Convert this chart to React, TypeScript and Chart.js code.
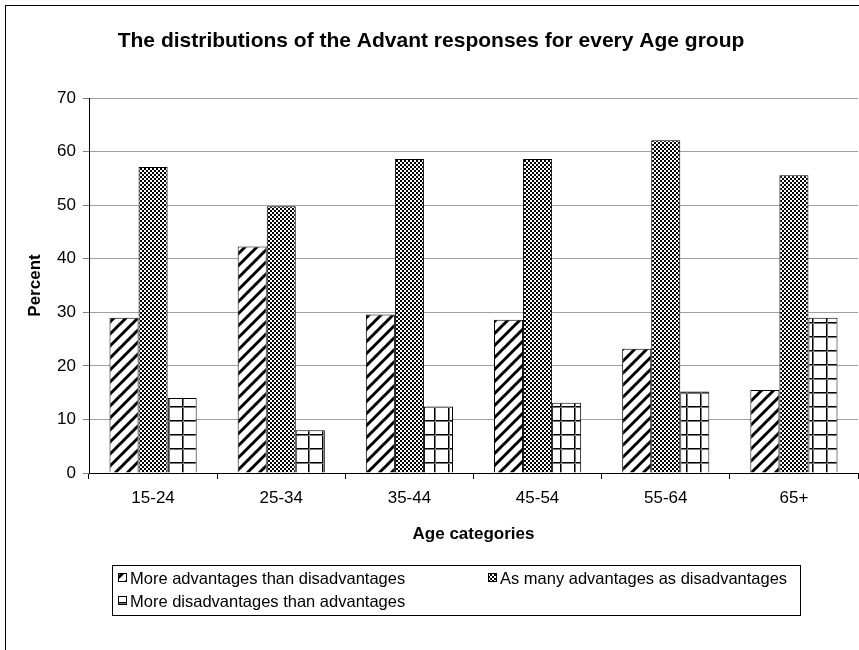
import React, { useEffect, useRef } from 'react';
import { Chart, registerables } from 'chart.js';

Chart.register(...registerables);

const categories = ['15-24', '25-34', '35-44', '45-54', '55-64', '65+'];
const seriesLabels = [
  'More advantages than disadvantages',
  'As many advantages as disadvantages',
  'More disadvantages than advantages',
];
const moreAdvantages = [29.0, 42.3, 29.6, 28.6, 23.2, 15.5];
const asManyAdvantages = [57.1, 49.8, 58.6, 58.6, 62.1, 55.6];
const moreDisadvantages = [14.0, 8.0, 12.4, 13.1, 15.2, 29.0];
const yMin = 0;
const yMax = 70;
const yStep = 10;
const chartTitle = 'The distributions of the Advant responses for every Age group';
const xAxisTitle = 'Age categories';
const yAxisTitle = 'Percent';

const FONT = "'Liberation Sans', Arial, Helvetica, sans-serif";

function makePattern(kind: string): CanvasPattern | string {
  const c = document.createElement('canvas');
  const ctx = c.getContext('2d');
  if (!ctx) return '#888';
  if (kind === 'diag') {
    c.width = 12; c.height = 12;
    ctx.fillStyle = '#fff';
    ctx.fillRect(0, 0, 12, 12);
    ctx.strokeStyle = '#000';
    ctx.lineWidth = 3;
    ctx.lineCap = 'square';
    ctx.beginPath();
    ctx.moveTo(-2, 14); ctx.lineTo(14, -2);
    ctx.moveTo(-4, 4); ctx.lineTo(4, -4);
    ctx.moveTo(8, 16); ctx.lineTo(16, 8);
    ctx.stroke();
  } else if (kind === 'check') {
    c.width = 4; c.height = 4;
    ctx.fillStyle = '#fff';
    ctx.fillRect(0, 0, 4, 4);
    ctx.fillStyle = '#000';
    ctx.fillRect(0, 0, 2, 2);
    ctx.fillRect(2, 2, 2, 2);
  } else {
    c.width = 14; c.height = 14;
    ctx.fillStyle = '#fff';
    ctx.fillRect(0, 0, 14, 14);
    ctx.fillStyle = '#000';
    ctx.fillRect(0, 0, 1, 14);
    ctx.fillRect(0, 0, 14, 1);
    ctx.fillStyle = '#777';
    ctx.fillRect(1, 0, 1, 14);
    ctx.fillRect(0, 1, 14, 1);
  }
  const p = ctx.createPattern(c, 'repeat');
  return p || '#888';
}

export default function App() {
  const ref = useRef<HTMLCanvasElement | null>(null);

  useEffect(() => {
    document.body.style.margin = '0';
    const canvas = ref.current;
    if (!canvas) return;
    const patterns = [makePattern('diag'), makePattern('check'), makePattern('grid')];
    const seriesValues = [moreAdvantages, asManyAdvantages, moreDisadvantages];

    const decor = {
      id: 'decor',
      beforeDraw(chart: any) {
        const ctx = chart.ctx;
        ctx.save();
        ctx.fillStyle = '#fff';
        ctx.fillRect(0, 0, chart.width, chart.height);
        ctx.strokeStyle = '#000';
        ctx.lineWidth = 1;
        ctx.strokeRect(5.5, 5.5, chart.width + 20, chart.height + 20);
        ctx.restore();
      },
      afterDraw(chart: any) {
        const ctx = chart.ctx;
        ctx.save();
        // title
        ctx.fillStyle = '#000';
        ctx.font = `bold 21px ${FONT}`;
        ctx.textAlign = 'center';
        ctx.textBaseline = 'middle';
        ctx.fillText(chartTitle, 431, 41);
        // legend box
        const bx = 112.5, by = 565.5, bw = 688, bh = 50;
        ctx.strokeStyle = '#000';
        ctx.lineWidth = 1;
        ctx.strokeRect(bx, by, bw, bh);
        const items = [
          { x: 118, y: 578 },
          { x: 488, y: 578 },
          { x: 118, y: 601 },
        ];
        ctx.font = `16.5px ${FONT}`;
        ctx.textAlign = 'left';
        ctx.textBaseline = 'middle';
        items.forEach((it, i) => {
          ctx.fillStyle = patterns[i] as any;
          ctx.fillRect(it.x, it.y - 5, 9, 9);
          ctx.strokeStyle = '#000';
          ctx.strokeRect(it.x + 0.5, it.y - 4.5, 8, 8);
          ctx.fillStyle = '#000';
          ctx.fillText(seriesLabels[i], it.x + 12, it.y + 1);
        });
        ctx.restore();
      },
    };

    const chart = new Chart(canvas, {
      type: 'bar',
      data: {
        labels: categories,
        datasets: seriesValues.map((vals, i) => ({
          label: seriesLabels[i],
          data: vals,
          backgroundColor: patterns[i] as any,
          borderColor: '#000',
          borderWidth: 1,
          categoryPercentage: 0.68,
          barPercentage: 1,
        })),
      },
      options: {
        responsive: false,
        animation: false,
        layout: { padding: { top: 98, right: 1, left: 0, bottom: 105 } },
        plugins: {
          legend: { display: false },
          title: { display: false },
          tooltip: { enabled: false },
        },
        scales: {
          x: {
            grid: {
              display: true,
              drawOnChartArea: false,
              drawTicks: true,
              tickLength: 6,
              tickColor: '#000',
              offset: true,
            },
            border: { color: '#000', width: 1 },
            ticks: { font: { family: FONT, size: 17 }, color: '#000', padding: 9 },
            title: {
              display: true,
              text: xAxisTitle,
              color: '#000',
              font: { family: FONT, size: 17, weight: 'bold' },
              padding: { top: 0, bottom: 0 },
            },
            afterFit: (s: any) => { s.height = 72; },
          },
          y: {
            min: yMin,
            max: yMax,
            ticks: { stepSize: yStep, font: { family: FONT, size: 17 }, color: '#000', padding: 7 },
            grid: { color: '#a0a0a0', tickColor: '#808080', tickLength: 6, lineWidth: 1 },
            border: { color: '#000', width: 1 },
            title: {
              display: true,
              text: yAxisTitle,
              color: '#000',
              font: { family: FONT, size: 17, weight: 'bold' },
              padding: { top: 25, bottom: 0 },
            },
            afterFit: (s: any) => { s.width = 89; },
          },
        },
      } as any,
      plugins: [decor],
    });
    return () => chart.destroy();
  }, []);

  return <canvas ref={ref} width={859} height={650} style={{ display: 'block' }} />;
}
